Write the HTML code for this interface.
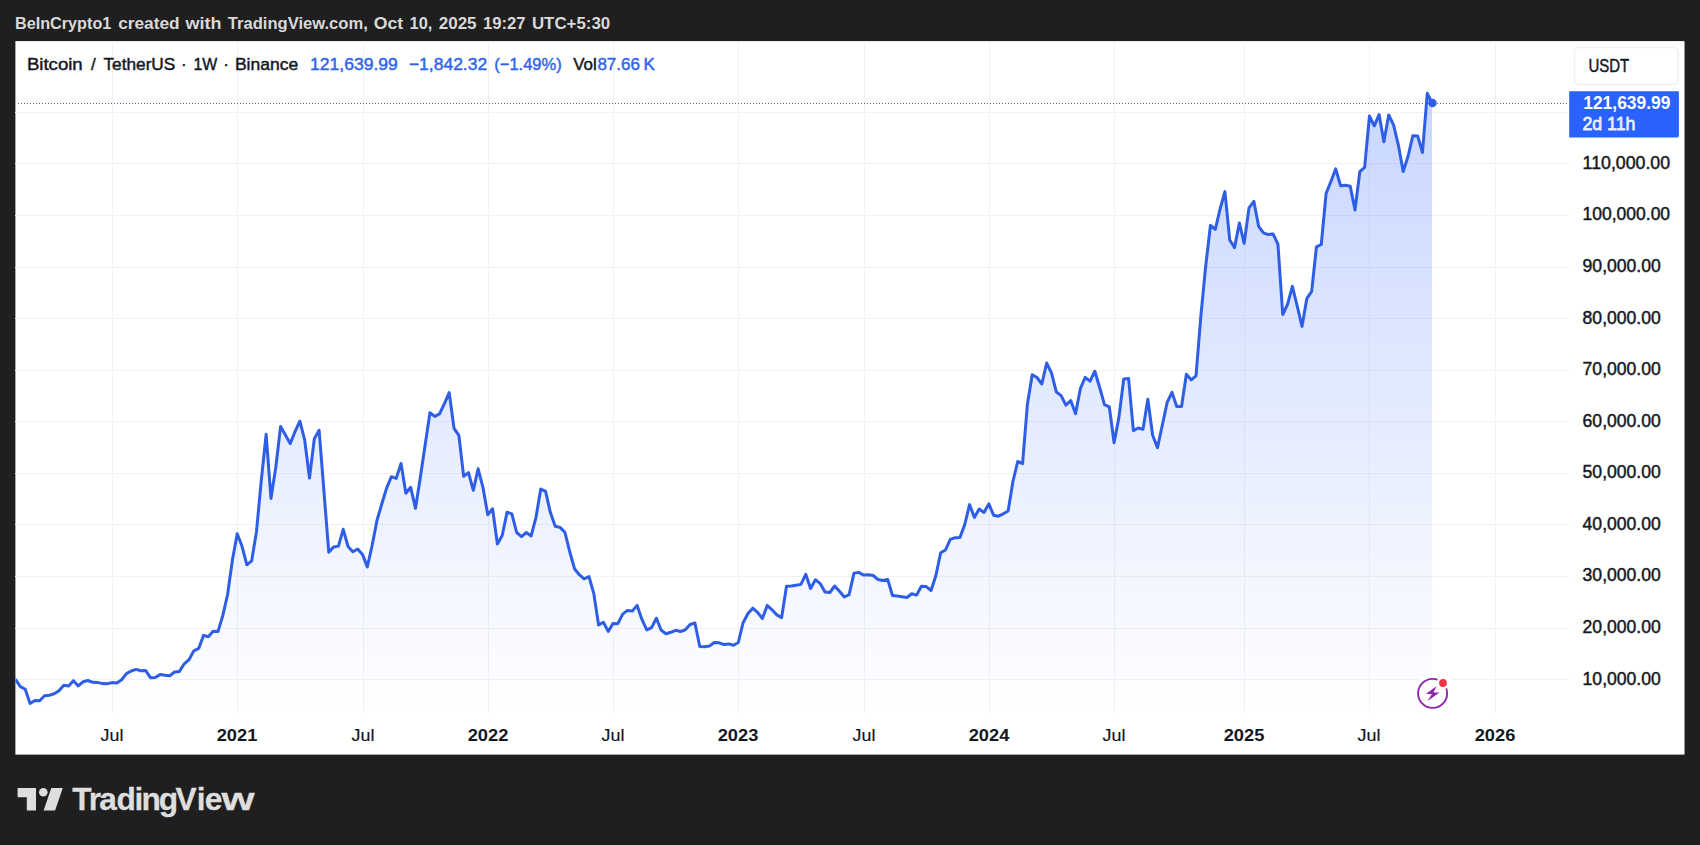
<!DOCTYPE html>
<html lang="en"><head><meta charset="utf-8"><title>BTCUSDT chart</title>
<style>html,body{margin:0;padding:0;background:#1f1f1f;}body{width:1700px;height:845px;overflow:hidden;}
text{paint-order:stroke fill;stroke-linejoin:round;}
text.r{stroke-width:0.45px;}
</style>
</head><body>
<svg width="1700" height="845" viewBox="0 0 1700 845" style="display:block;font-family:'Liberation Sans',sans-serif">
<defs>
<linearGradient id="ag" gradientUnits="userSpaceOnUse" x1="0" y1="41.1" x2="0" y2="713.5"><stop offset="0" stop-color="#2962ff" stop-opacity="0.28"/><stop offset="1" stop-color="#2962ff" stop-opacity="0"/></linearGradient>
<clipPath id="pane"><rect x="15.4" y="41.1" width="1554.1" height="672.4"/></clipPath>
</defs>
<rect width="1700" height="845" fill="#1f1f1f"/>
<rect x="15.4" y="41.1" width="1669.1" height="713.5" fill="#ffffff"/>
<g stroke="#f2f2f3" stroke-width="1" shape-rendering="crispEdges">
<line x1="15.4" y1="679.5" x2="1569.5" y2="679.5"/>
<line x1="15.4" y1="628.5" x2="1569.5" y2="628.5"/>
<line x1="15.4" y1="576.5" x2="1569.5" y2="576.5"/>
<line x1="15.4" y1="524.5" x2="1569.5" y2="524.5"/>
<line x1="15.4" y1="473.5" x2="1569.5" y2="473.5"/>
<line x1="15.4" y1="421.5" x2="1569.5" y2="421.5"/>
<line x1="15.4" y1="370.5" x2="1569.5" y2="370.5"/>
<line x1="15.4" y1="318.5" x2="1569.5" y2="318.5"/>
<line x1="15.4" y1="267.5" x2="1569.5" y2="267.5"/>
<line x1="15.4" y1="215.5" x2="1569.5" y2="215.5"/>
<line x1="15.4" y1="163.5" x2="1569.5" y2="163.5"/>
<line x1="15.4" y1="112.5" x2="1569.5" y2="112.5"/>
<line x1="112.5" y1="41.1" x2="112.5" y2="713.5"/>
<line x1="237.5" y1="41.1" x2="237.5" y2="713.5"/>
<line x1="363.5" y1="41.1" x2="363.5" y2="713.5"/>
<line x1="488.5" y1="41.1" x2="488.5" y2="713.5"/>
<line x1="613.5" y1="41.1" x2="613.5" y2="713.5"/>
<line x1="738.5" y1="41.1" x2="738.5" y2="713.5"/>
<line x1="864.5" y1="41.1" x2="864.5" y2="713.5"/>
<line x1="989.5" y1="41.1" x2="989.5" y2="713.5"/>
<line x1="1114.5" y1="41.1" x2="1114.5" y2="713.5"/>
<line x1="1244.5" y1="41.1" x2="1244.5" y2="713.5"/>
<line x1="1369.5" y1="41.1" x2="1369.5" y2="713.5"/>
<line x1="1495.5" y1="41.1" x2="1495.5" y2="713.5"/>
</g>
<g clip-path="url(#pane)">
<path d="M15.60,679.70 L20.42,686.60 L25.24,689.30 L30.05,703.50 L34.87,700.50 L39.69,700.70 L44.51,695.70 L49.33,695.20 L54.14,693.80 L58.96,690.80 L63.78,685.30 L68.60,685.90 L73.42,680.70 L78.23,685.90 L83.05,681.80 L87.87,680.50 L92.69,682.30 L97.51,682.40 L102.32,683.60 L107.14,683.70 L111.96,682.60 L116.78,683.10 L121.60,679.80 L126.41,673.60 L131.23,671.00 L136.05,669.40 L140.87,670.70 L145.69,670.60 L150.50,677.70 L155.32,677.60 L160.14,674.50 L164.96,675.30 L169.78,675.80 L174.59,672.00 L179.41,671.40 L184.23,663.80 L189.05,659.60 L193.87,650.80 L198.68,648.40 L203.50,635.40 L208.32,636.80 L213.14,631.30 L217.96,631.60 L222.77,615.60 L227.59,594.50 L232.41,560.00 L237.23,533.70 L242.05,546.30 L246.86,564.80 L251.68,560.80 L256.50,531.50 L261.32,480.00 L266.14,434.30 L270.95,498.50 L275.77,467.50 L280.59,426.40 L285.41,435.10 L290.23,443.60 L295.04,431.60 L299.86,421.20 L304.68,440.00 L309.50,478.00 L314.32,438.80 L319.13,430.30 L323.95,491.50 L328.77,552.20 L333.59,547.00 L338.41,546.10 L343.22,529.30 L348.04,546.50 L352.86,551.70 L357.68,549.00 L362.50,554.40 L367.31,566.90 L372.13,545.50 L376.95,520.50 L381.77,504.00 L386.59,488.10 L391.40,476.70 L396.22,478.40 L401.04,463.50 L405.86,493.30 L410.68,487.30 L415.49,508.30 L420.31,477.50 L425.13,445.00 L429.95,412.80 L434.77,416.40 L439.58,413.90 L444.40,403.60 L449.22,392.60 L454.04,428.40 L458.86,435.40 L463.67,476.30 L468.49,472.60 L473.31,490.30 L478.13,468.80 L482.95,487.30 L487.76,514.80 L492.58,508.80 L497.40,544.00 L502.22,535.50 L507.04,512.20 L511.85,513.80 L516.67,532.50 L521.49,536.60 L526.31,532.50 L531.13,535.90 L535.94,517.60 L540.76,489.10 L545.58,491.40 L550.40,512.60 L555.22,526.30 L560.03,527.40 L564.85,532.20 L569.67,551.50 L574.49,568.70 L579.31,574.70 L584.12,578.80 L588.94,576.50 L593.76,593.30 L598.58,624.90 L603.40,622.20 L608.21,631.40 L613.03,623.50 L617.85,623.70 L622.67,614.10 L627.49,610.40 L632.30,611.10 L637.12,605.40 L641.94,619.40 L646.76,629.90 L651.58,627.60 L656.39,618.20 L661.21,630.20 L666.03,633.80 L670.85,632.30 L675.67,630.30 L680.48,631.50 L685.30,629.80 L690.12,624.50 L694.94,623.00 L699.76,646.50 L704.57,646.70 L709.39,646.10 L714.21,642.50 L719.03,642.80 L723.85,644.50 L728.66,643.90 L733.48,645.30 L738.30,642.50 L743.12,622.70 L747.94,613.50 L752.75,608.20 L757.57,612.40 L762.39,618.50 L767.21,605.40 L772.03,609.80 L776.84,614.90 L781.66,617.60 L786.48,586.30 L791.30,586.10 L796.12,585.30 L800.93,584.40 L805.75,574.30 L810.57,588.50 L815.39,579.70 L820.21,583.60 L825.02,592.00 L829.84,592.50 L834.66,586.00 L839.48,591.30 L844.30,597.00 L849.11,594.70 L853.93,573.30 L858.75,572.40 L863.57,575.10 L868.39,574.70 L873.20,575.50 L878.02,579.50 L882.84,580.50 L887.66,579.40 L892.48,595.50 L897.29,596.10 L902.11,596.70 L906.93,597.50 L911.75,593.80 L916.57,595.10 L921.38,586.25 L926.20,586.60 L931.02,590.50 L935.84,575.70 L940.66,552.70 L945.47,550.00 L950.29,539.30 L955.11,537.70 L959.93,537.60 L964.75,524.50 L969.56,504.60 L974.38,517.40 L979.20,509.00 L984.02,512.40 L988.84,503.90 L993.65,515.30 L998.47,516.20 L1003.29,513.80 L1008.11,511.00 L1012.93,481.50 L1017.74,461.50 L1022.56,463.60 L1027.38,404.50 L1032.20,374.80 L1037.02,377.50 L1041.83,384.00 L1046.65,363.00 L1051.47,372.80 L1056.29,391.90 L1061.11,395.60 L1065.92,405.20 L1070.74,400.50 L1075.56,413.70 L1080.38,388.50 L1085.20,377.30 L1090.01,381.20 L1094.83,371.20 L1099.65,387.50 L1104.47,404.60 L1109.29,406.90 L1114.10,442.80 L1118.92,417.40 L1123.74,379.00 L1128.56,378.40 L1133.38,430.70 L1138.19,428.00 L1143.01,429.30 L1147.83,399.20 L1152.65,435.20 L1157.47,447.80 L1162.28,425.30 L1167.10,402.70 L1171.92,392.30 L1176.74,406.60 L1181.56,406.50 L1186.37,374.30 L1191.19,379.80 L1196.01,375.90 L1200.83,316.30 L1205.65,266.50 L1210.46,225.50 L1215.28,229.30 L1220.10,209.00 L1224.92,191.60 L1229.74,240.00 L1234.55,247.60 L1239.37,223.00 L1244.19,243.30 L1249.01,207.80 L1253.83,201.30 L1258.64,226.30 L1263.46,232.80 L1268.28,234.60 L1273.10,233.90 L1277.92,244.20 L1282.73,314.50 L1287.55,304.30 L1292.37,286.40 L1297.19,306.00 L1302.01,326.40 L1306.82,298.60 L1311.64,291.30 L1316.46,246.80 L1321.28,244.50 L1326.10,193.50 L1330.91,181.50 L1335.73,168.80 L1340.55,185.70 L1345.37,185.20 L1350.19,186.10 L1355.00,210.00 L1359.82,171.70 L1364.64,167.30 L1369.46,116.00 L1374.28,125.80 L1379.09,114.60 L1383.91,141.70 L1388.73,115.00 L1393.55,124.80 L1398.37,145.10 L1403.18,171.50 L1408.00,156.50 L1412.82,135.80 L1417.64,135.90 L1422.46,152.50 L1427.27,93.30 L1432.09,103.00 L1432.09,713.5 L15.60,713.5 Z" fill="url(#ag)"/>
<path d="M15.60,679.70 L20.42,686.60 L25.24,689.30 L30.05,703.50 L34.87,700.50 L39.69,700.70 L44.51,695.70 L49.33,695.20 L54.14,693.80 L58.96,690.80 L63.78,685.30 L68.60,685.90 L73.42,680.70 L78.23,685.90 L83.05,681.80 L87.87,680.50 L92.69,682.30 L97.51,682.40 L102.32,683.60 L107.14,683.70 L111.96,682.60 L116.78,683.10 L121.60,679.80 L126.41,673.60 L131.23,671.00 L136.05,669.40 L140.87,670.70 L145.69,670.60 L150.50,677.70 L155.32,677.60 L160.14,674.50 L164.96,675.30 L169.78,675.80 L174.59,672.00 L179.41,671.40 L184.23,663.80 L189.05,659.60 L193.87,650.80 L198.68,648.40 L203.50,635.40 L208.32,636.80 L213.14,631.30 L217.96,631.60 L222.77,615.60 L227.59,594.50 L232.41,560.00 L237.23,533.70 L242.05,546.30 L246.86,564.80 L251.68,560.80 L256.50,531.50 L261.32,480.00 L266.14,434.30 L270.95,498.50 L275.77,467.50 L280.59,426.40 L285.41,435.10 L290.23,443.60 L295.04,431.60 L299.86,421.20 L304.68,440.00 L309.50,478.00 L314.32,438.80 L319.13,430.30 L323.95,491.50 L328.77,552.20 L333.59,547.00 L338.41,546.10 L343.22,529.30 L348.04,546.50 L352.86,551.70 L357.68,549.00 L362.50,554.40 L367.31,566.90 L372.13,545.50 L376.95,520.50 L381.77,504.00 L386.59,488.10 L391.40,476.70 L396.22,478.40 L401.04,463.50 L405.86,493.30 L410.68,487.30 L415.49,508.30 L420.31,477.50 L425.13,445.00 L429.95,412.80 L434.77,416.40 L439.58,413.90 L444.40,403.60 L449.22,392.60 L454.04,428.40 L458.86,435.40 L463.67,476.30 L468.49,472.60 L473.31,490.30 L478.13,468.80 L482.95,487.30 L487.76,514.80 L492.58,508.80 L497.40,544.00 L502.22,535.50 L507.04,512.20 L511.85,513.80 L516.67,532.50 L521.49,536.60 L526.31,532.50 L531.13,535.90 L535.94,517.60 L540.76,489.10 L545.58,491.40 L550.40,512.60 L555.22,526.30 L560.03,527.40 L564.85,532.20 L569.67,551.50 L574.49,568.70 L579.31,574.70 L584.12,578.80 L588.94,576.50 L593.76,593.30 L598.58,624.90 L603.40,622.20 L608.21,631.40 L613.03,623.50 L617.85,623.70 L622.67,614.10 L627.49,610.40 L632.30,611.10 L637.12,605.40 L641.94,619.40 L646.76,629.90 L651.58,627.60 L656.39,618.20 L661.21,630.20 L666.03,633.80 L670.85,632.30 L675.67,630.30 L680.48,631.50 L685.30,629.80 L690.12,624.50 L694.94,623.00 L699.76,646.50 L704.57,646.70 L709.39,646.10 L714.21,642.50 L719.03,642.80 L723.85,644.50 L728.66,643.90 L733.48,645.30 L738.30,642.50 L743.12,622.70 L747.94,613.50 L752.75,608.20 L757.57,612.40 L762.39,618.50 L767.21,605.40 L772.03,609.80 L776.84,614.90 L781.66,617.60 L786.48,586.30 L791.30,586.10 L796.12,585.30 L800.93,584.40 L805.75,574.30 L810.57,588.50 L815.39,579.70 L820.21,583.60 L825.02,592.00 L829.84,592.50 L834.66,586.00 L839.48,591.30 L844.30,597.00 L849.11,594.70 L853.93,573.30 L858.75,572.40 L863.57,575.10 L868.39,574.70 L873.20,575.50 L878.02,579.50 L882.84,580.50 L887.66,579.40 L892.48,595.50 L897.29,596.10 L902.11,596.70 L906.93,597.50 L911.75,593.80 L916.57,595.10 L921.38,586.25 L926.20,586.60 L931.02,590.50 L935.84,575.70 L940.66,552.70 L945.47,550.00 L950.29,539.30 L955.11,537.70 L959.93,537.60 L964.75,524.50 L969.56,504.60 L974.38,517.40 L979.20,509.00 L984.02,512.40 L988.84,503.90 L993.65,515.30 L998.47,516.20 L1003.29,513.80 L1008.11,511.00 L1012.93,481.50 L1017.74,461.50 L1022.56,463.60 L1027.38,404.50 L1032.20,374.80 L1037.02,377.50 L1041.83,384.00 L1046.65,363.00 L1051.47,372.80 L1056.29,391.90 L1061.11,395.60 L1065.92,405.20 L1070.74,400.50 L1075.56,413.70 L1080.38,388.50 L1085.20,377.30 L1090.01,381.20 L1094.83,371.20 L1099.65,387.50 L1104.47,404.60 L1109.29,406.90 L1114.10,442.80 L1118.92,417.40 L1123.74,379.00 L1128.56,378.40 L1133.38,430.70 L1138.19,428.00 L1143.01,429.30 L1147.83,399.20 L1152.65,435.20 L1157.47,447.80 L1162.28,425.30 L1167.10,402.70 L1171.92,392.30 L1176.74,406.60 L1181.56,406.50 L1186.37,374.30 L1191.19,379.80 L1196.01,375.90 L1200.83,316.30 L1205.65,266.50 L1210.46,225.50 L1215.28,229.30 L1220.10,209.00 L1224.92,191.60 L1229.74,240.00 L1234.55,247.60 L1239.37,223.00 L1244.19,243.30 L1249.01,207.80 L1253.83,201.30 L1258.64,226.30 L1263.46,232.80 L1268.28,234.60 L1273.10,233.90 L1277.92,244.20 L1282.73,314.50 L1287.55,304.30 L1292.37,286.40 L1297.19,306.00 L1302.01,326.40 L1306.82,298.60 L1311.64,291.30 L1316.46,246.80 L1321.28,244.50 L1326.10,193.50 L1330.91,181.50 L1335.73,168.80 L1340.55,185.70 L1345.37,185.20 L1350.19,186.10 L1355.00,210.00 L1359.82,171.70 L1364.64,167.30 L1369.46,116.00 L1374.28,125.80 L1379.09,114.60 L1383.91,141.70 L1388.73,115.00 L1393.55,124.80 L1398.37,145.10 L1403.18,171.50 L1408.00,156.50 L1412.82,135.80 L1417.64,135.90 L1422.46,152.50 L1427.27,93.30 L1432.09,103.00" fill="none" stroke="#2e5ee6" stroke-width="3" stroke-linejoin="round" stroke-linecap="round"/>
</g>
<line x1="18" y1="103.5" x2="1568" y2="103.5" stroke="#4f64a6" stroke-width="1" stroke-dasharray="1 2" shape-rendering="crispEdges"/>
<circle cx="1432.49" cy="103" r="4.2" fill="#2e5ee6"/>
<text x="15.0" y="28.8" font-size="17" font-weight="700" fill="#d9d9d9" textLength="96.3" lengthAdjust="spacingAndGlyphs" stroke="#d9d9d9" stroke-width="0">BeInCrypto1</text>
<text x="118.2" y="28.8" font-size="17" font-weight="700" fill="#d9d9d9" textLength="61.4" lengthAdjust="spacingAndGlyphs" stroke="#d9d9d9" stroke-width="0">created</text>
<text x="185.4" y="28.8" font-size="17" font-weight="700" fill="#d9d9d9" textLength="36.0" lengthAdjust="spacingAndGlyphs" stroke="#d9d9d9" stroke-width="0">with</text>
<text x="227.8" y="28.8" font-size="17" font-weight="700" fill="#d9d9d9" textLength="140.0" lengthAdjust="spacingAndGlyphs" stroke="#d9d9d9" stroke-width="0">TradingView.com,</text>
<text x="373.8" y="28.8" font-size="17" font-weight="700" fill="#d9d9d9" textLength="29.4" lengthAdjust="spacingAndGlyphs" stroke="#d9d9d9" stroke-width="0">Oct</text>
<text x="409.5" y="28.8" font-size="17" font-weight="700" fill="#d9d9d9" textLength="22.9" lengthAdjust="spacingAndGlyphs" stroke="#d9d9d9" stroke-width="0">10,</text>
<text x="438.7" y="28.8" font-size="17" font-weight="700" fill="#d9d9d9" textLength="37.9" lengthAdjust="spacingAndGlyphs" stroke="#d9d9d9" stroke-width="0">2025</text>
<text x="482.9" y="28.8" font-size="17" font-weight="700" fill="#d9d9d9" textLength="42.7" lengthAdjust="spacingAndGlyphs" stroke="#d9d9d9" stroke-width="0">19:27</text>
<text x="531.9" y="28.8" font-size="17" font-weight="700" fill="#d9d9d9" textLength="78.3" lengthAdjust="spacingAndGlyphs" stroke="#d9d9d9" stroke-width="0">UTC+5:30</text>
<text x="26.9" y="69.6" font-size="17" fill="#131722" textLength="55.8" lengthAdjust="spacingAndGlyphs" stroke="#131722" stroke-width="0.45">Bitcoin</text>
<text x="93.4" y="69.6" font-size="17" fill="#131722" text-anchor="middle" stroke="#131722" stroke-width="0.45">/</text>
<text x="103.5" y="69.6" font-size="17" fill="#131722" textLength="71.8" lengthAdjust="spacingAndGlyphs" stroke="#131722" stroke-width="0.45">TetherUS</text>
<text x="183.8" y="69.6" font-size="17" fill="#131722" text-anchor="middle" stroke="#131722" stroke-width="0.45">·</text>
<text x="193.5" y="69.6" font-size="17" fill="#131722" textLength="23.8" lengthAdjust="spacingAndGlyphs" stroke="#131722" stroke-width="0.45">1W</text>
<text x="226.1" y="69.6" font-size="17" fill="#131722" text-anchor="middle" stroke="#131722" stroke-width="0.45">·</text>
<text x="234.9" y="69.6" font-size="17" fill="#131722" textLength="63.3" lengthAdjust="spacingAndGlyphs" stroke="#131722" stroke-width="0.45">Binance</text>
<text x="310.1" y="69.6" font-size="17" fill="#2f64ec" textLength="87.7" lengthAdjust="spacingAndGlyphs" stroke="#2f64ec" stroke-width="0.45">121,639.99</text>
<text x="408.9" y="69.6" font-size="17" fill="#2f64ec" textLength="78.3" lengthAdjust="spacingAndGlyphs" stroke="#2f64ec" stroke-width="0.45">−1,842.32</text>
<text x="494.3" y="69.6" font-size="17" fill="#2f64ec" textLength="67.4" lengthAdjust="spacingAndGlyphs" stroke="#2f64ec" stroke-width="0.45">(−1.49%)</text>
<text x="573.2" y="69.6" font-size="17" fill="#131722" textLength="23.6" lengthAdjust="spacingAndGlyphs" stroke="#131722" stroke-width="0.45">Vol</text>
<text x="597.4" y="69.6" font-size="17" fill="#2f64ec" textLength="42.5" lengthAdjust="spacingAndGlyphs" stroke="#2f64ec" stroke-width="0.45">87.66</text>
<text x="649.2" y="69.6" font-size="17" fill="#2f64ec" text-anchor="middle" stroke="#2f64ec" stroke-width="0.45">K</text>
<rect x="1574.5" y="47.5" width="103.5" height="37" rx="4.5" fill="#fff" stroke="#f1f1f1" stroke-width="1.6"/>
<text x="1588.4" y="71.9" font-size="17.5" fill="#131722" stroke="#131722" stroke-width="0.45" textLength="40.8" lengthAdjust="spacingAndGlyphs">USDT</text>
<path d="M1569.2,91.2 H1678.9 V135.4 a2.2,2.2 0 0 1 -2.2,2.2 H1569.2 Z" fill="#2962ff"/>
<text x="1583.2" y="108.8" font-size="18" font-weight="700" fill="#ffffff" textLength="87.3" lengthAdjust="spacingAndGlyphs">121,639.99</text>
<text x="1582.4" y="129.6" font-size="17.6" fill="#ffffff" fill-opacity="0.82" stroke="#ffffff" stroke-opacity="0.82" stroke-width="0.8" textLength="53" lengthAdjust="spacingAndGlyphs">2d 11h</text>
<text x="1582.6" y="684.6" font-size="17.8" fill="#131722" stroke="#131722" stroke-width="0.45" textLength="78.2" lengthAdjust="spacingAndGlyphs">10,000.00</text>
<text x="1582.6" y="633.0" font-size="17.8" fill="#131722" stroke="#131722" stroke-width="0.45" textLength="78.2" lengthAdjust="spacingAndGlyphs">20,000.00</text>
<text x="1582.6" y="581.4" font-size="17.8" fill="#131722" stroke="#131722" stroke-width="0.45" textLength="78.2" lengthAdjust="spacingAndGlyphs">30,000.00</text>
<text x="1582.6" y="529.9" font-size="17.8" fill="#131722" stroke="#131722" stroke-width="0.45" textLength="78.2" lengthAdjust="spacingAndGlyphs">40,000.00</text>
<text x="1582.6" y="478.3" font-size="17.8" fill="#131722" stroke="#131722" stroke-width="0.45" textLength="78.2" lengthAdjust="spacingAndGlyphs">50,000.00</text>
<text x="1582.6" y="426.7" font-size="17.8" fill="#131722" stroke="#131722" stroke-width="0.45" textLength="78.2" lengthAdjust="spacingAndGlyphs">60,000.00</text>
<text x="1582.6" y="375.1" font-size="17.8" fill="#131722" stroke="#131722" stroke-width="0.45" textLength="78.2" lengthAdjust="spacingAndGlyphs">70,000.00</text>
<text x="1582.6" y="323.5" font-size="17.8" fill="#131722" stroke="#131722" stroke-width="0.45" textLength="78.2" lengthAdjust="spacingAndGlyphs">80,000.00</text>
<text x="1582.6" y="272.0" font-size="17.8" fill="#131722" stroke="#131722" stroke-width="0.45" textLength="78.2" lengthAdjust="spacingAndGlyphs">90,000.00</text>
<text x="1582.6" y="220.4" font-size="17.8" fill="#131722" stroke="#131722" stroke-width="0.45" textLength="87.5" lengthAdjust="spacingAndGlyphs">100,000.00</text>
<text x="1582.6" y="168.8" font-size="17.8" fill="#131722" stroke="#131722" stroke-width="0.45" textLength="87.5" lengthAdjust="spacingAndGlyphs">110,000.00</text>
<text x="112.0" y="740.6" font-size="17" fill="#131722" stroke="#131722" stroke-width="0.2" text-anchor="middle" textLength="22.8" lengthAdjust="spacingAndGlyphs">Jul</text>
<text x="237.0" y="740.6" font-size="17" font-weight="700" fill="#131722" text-anchor="middle" textLength="40.6" lengthAdjust="spacingAndGlyphs">2021</text>
<text x="363.0" y="740.6" font-size="17" fill="#131722" stroke="#131722" stroke-width="0.2" text-anchor="middle" textLength="22.8" lengthAdjust="spacingAndGlyphs">Jul</text>
<text x="488.0" y="740.6" font-size="17" font-weight="700" fill="#131722" text-anchor="middle" textLength="40.6" lengthAdjust="spacingAndGlyphs">2022</text>
<text x="613.0" y="740.6" font-size="17" fill="#131722" stroke="#131722" stroke-width="0.2" text-anchor="middle" textLength="22.8" lengthAdjust="spacingAndGlyphs">Jul</text>
<text x="738.0" y="740.6" font-size="17" font-weight="700" fill="#131722" text-anchor="middle" textLength="40.6" lengthAdjust="spacingAndGlyphs">2023</text>
<text x="864.0" y="740.6" font-size="17" fill="#131722" stroke="#131722" stroke-width="0.2" text-anchor="middle" textLength="22.8" lengthAdjust="spacingAndGlyphs">Jul</text>
<text x="989.0" y="740.6" font-size="17" font-weight="700" fill="#131722" text-anchor="middle" textLength="40.6" lengthAdjust="spacingAndGlyphs">2024</text>
<text x="1114.0" y="740.6" font-size="17" fill="#131722" stroke="#131722" stroke-width="0.2" text-anchor="middle" textLength="22.8" lengthAdjust="spacingAndGlyphs">Jul</text>
<text x="1244.0" y="740.6" font-size="17" font-weight="700" fill="#131722" text-anchor="middle" textLength="40.6" lengthAdjust="spacingAndGlyphs">2025</text>
<text x="1369.0" y="740.6" font-size="17" fill="#131722" stroke="#131722" stroke-width="0.2" text-anchor="middle" textLength="22.8" lengthAdjust="spacingAndGlyphs">Jul</text>
<text x="1495.0" y="740.6" font-size="17" font-weight="700" fill="#131722" text-anchor="middle" textLength="40.6" lengthAdjust="spacingAndGlyphs">2026</text>
<g>
<rect x="1419.5" y="677" width="32" height="33" rx="4" fill="#ffffff"/>
<circle cx="1432.6" cy="693.4" r="14.5" fill="none" stroke="#8e24aa" stroke-width="1.9"/>
<circle cx="1443" cy="683" r="6.4" fill="#ffffff"/>
<circle cx="1443" cy="683" r="3.9" fill="#f23645"/>
<path d="M1436.7,686.1 L1425.9,693.9 L1431.9,693.9 L1427.6,701 L1439.5,692.6 L1433.4,692.6 Z" fill="#8e24aa"/>
</g>
<g fill="#dedede">
<path d="M17.6,788 H36 V810.5 H26.8 V797.2 H17.6 Z"/>
<circle cx="43.3" cy="792.3" r="4.3"/>
<path d="M51.3,788 H62.8 L55.1,810.5 H43.6 Z"/>
<text x="72.3 88.7 99.2 116.6 134.6 141.6 158.8 175.4 196.7 204.7" y="810.3" font-size="31.7" font-weight="700" stroke="#dedede" stroke-width="0.3">TradingVie<tspan x="221.4" textLength="33.1" lengthAdjust="spacingAndGlyphs">w</tspan></text>
</g>
</svg>
</body></html>
